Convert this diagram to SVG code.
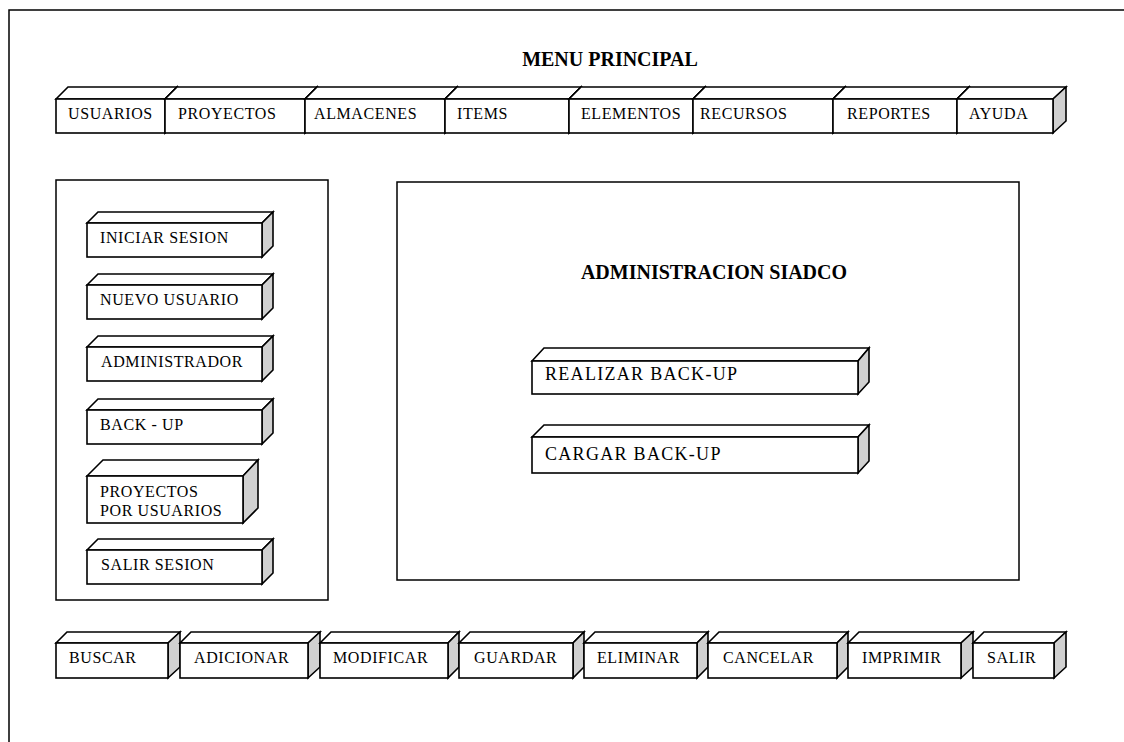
<svg xmlns="http://www.w3.org/2000/svg" width="1124" height="742" viewBox="0 0 1124 742">
  <style>
    .face { fill: #ffffff; stroke: #000000; stroke-width: 1.6; stroke-linejoin: miter; }
    .side { fill: #d0d0d0; stroke: #000000; stroke-width: 1.6; stroke-linejoin: miter; }
    .panel { fill: none; stroke: #000000; stroke-width: 1.5; }
    .lbl { font-family: "Liberation Serif", "Times New Roman", serif; font-size: 16px; letter-spacing: 0.6px; fill: #000000; }
    .big { font-family: "Liberation Serif", "Times New Roman", serif; font-size: 18px; letter-spacing: 1.3px; fill: #000000; }
    .title { font-family: "Liberation Serif", "Times New Roman", serif; font-size: 20px; font-weight: bold; fill: #000000; text-anchor: middle; }
  </style>

  <rect width="1124" height="742" fill="#ffffff"/>

  <!-- page frame: left and top edges only -->
  <path class="panel" d="M9,742 V10 H1124"/>

  <text class="title" x="610" y="66">MENU PRINCIPAL</text>

  <!-- top menu bar: adjacent boxes, each covers the side face of the one before -->
  <g id="menu-usuarios">
    <polygon class="face" points="56,99 68,87 177,87 165,99"/>
    <polygon class="side" points="165,99 177,87 177,121 165,133"/>
    <rect class="face" x="56" y="99" width="109" height="34"/>
    <text class="lbl" x="68" y="119">USUARIOS</text>
  </g>
  <g id="menu-proyectos">
    <polygon class="face" points="165,99 177,87 317,87 305,99"/>
    <polygon class="side" points="305,99 317,87 317,121 305,133"/>
    <rect class="face" x="165" y="99" width="140" height="34"/>
    <text class="lbl" x="178" y="119">PROYECTOS</text>
  </g>
  <g id="menu-almacenes">
    <polygon class="face" points="305,99 317,87 457,87 445,99"/>
    <polygon class="side" points="445,99 457,87 457,121 445,133"/>
    <rect class="face" x="305" y="99" width="140" height="34"/>
    <text class="lbl" x="314" y="119">ALMACENES</text>
  </g>
  <g id="menu-items">
    <polygon class="face" points="445,99 457,87 581,87 569,99"/>
    <polygon class="side" points="569,99 581,87 581,121 569,133"/>
    <rect class="face" x="445" y="99" width="124" height="34"/>
    <text class="lbl" x="457" y="119">ITEMS</text>
  </g>
  <g id="menu-elementos">
    <polygon class="face" points="569,99 581,87 705,87 693,99"/>
    <polygon class="side" points="693,99 705,87 705,121 693,133"/>
    <rect class="face" x="569" y="99" width="124" height="34"/>
    <text class="lbl" x="581" y="119">ELEMENTOS</text>
  </g>
  <g id="menu-recursos">
    <polygon class="face" points="693,99 705,87 845,87 833,99"/>
    <polygon class="side" points="833,99 845,87 845,121 833,133"/>
    <rect class="face" x="693" y="99" width="140" height="34"/>
    <text class="lbl" x="700" y="119">RECURSOS</text>
  </g>
  <g id="menu-reportes">
    <polygon class="face" points="833,99 845,87 969,87 957,99"/>
    <polygon class="side" points="957,99 969,87 969,121 957,133"/>
    <rect class="face" x="833" y="99" width="124" height="34"/>
    <text class="lbl" x="847" y="119">REPORTES</text>
  </g>
  <g id="menu-ayuda">
    <polygon class="face" points="957,99 969,87 1066,87 1053,99"/>
    <polygon class="side" points="1053,99 1066,87 1066,121 1053,133"/>
    <rect class="face" x="957" y="99" width="96" height="34"/>
    <text class="lbl" x="969" y="119">AYUDA</text>
  </g>

  <!-- left side panel -->
  <g id="panel-usuarios">
    <rect class="panel" x="56" y="180" width="272" height="420"/>
  </g>
  <g id="btn-iniciar-sesion">
    <polygon class="face" points="87,223 98,212 273,212 262,223"/>
    <polygon class="side" points="262,223 273,212 273,246 262,257"/>
    <rect class="face" x="87" y="223" width="175" height="34"/>
    <text class="lbl" x="100" y="243">INICIAR SESION</text>
  </g>
  <g id="btn-nuevo-usuario">
    <polygon class="face" points="87,285 98,274 273,274 262,285"/>
    <polygon class="side" points="262,285 273,274 273,308 262,319"/>
    <rect class="face" x="87" y="285" width="175" height="34"/>
    <text class="lbl" x="100" y="305">NUEVO USUARIO</text>
  </g>
  <g id="btn-administrador">
    <polygon class="face" points="87,347 98,336 273,336 262,347"/>
    <polygon class="side" points="262,347 273,336 273,370 262,381"/>
    <rect class="face" x="87" y="347" width="175" height="34"/>
    <text class="lbl" x="101" y="367">ADMINISTRADOR</text>
  </g>
  <g id="btn-back-up">
    <polygon class="face" points="87,410 98,399 273,399 262,410"/>
    <polygon class="side" points="262,410 273,399 273,433 262,444"/>
    <rect class="face" x="87" y="410" width="175" height="34"/>
    <text class="lbl" x="100" y="430">BACK - UP</text>
  </g>
  <g id="btn-proyectos-usuarios">
    <polygon class="face" points="87,476 103,460 258,460 243,476"/>
    <polygon class="side" points="243,476 258,460 258,508 243,523"/>
    <rect class="face" x="87" y="476" width="156" height="47"/>
    <text class="lbl" x="100" y="497">PROYECTOS</text>
    <text class="lbl" x="100" y="516">POR USUARIOS</text>
  </g>
  <g id="btn-salir-sesion">
    <polygon class="face" points="87,550 98,539 273,539 262,550"/>
    <polygon class="side" points="262,550 273,539 273,573 262,584"/>
    <rect class="face" x="87" y="550" width="175" height="34"/>
    <text class="lbl" x="101" y="570">SALIR SESION</text>
  </g>

  <!-- main content panel -->
  <g id="panel-admin">
    <rect class="panel" x="397" y="182" width="622" height="398"/>
    <text class="title" x="714" y="279">ADMINISTRACION SIADCO</text>
  </g>
  <g id="btn-realizar-backup">
    <polygon class="face" points="532,361 544,348 869,348 858,361"/>
    <polygon class="side" points="858,361 869,348 869,382 858,394"/>
    <rect class="face" x="532" y="361" width="326" height="33"/>
    <text class="big" x="545" y="380">REALIZAR BACK-UP</text>
  </g>
  <g id="btn-cargar-backup">
    <polygon class="face" points="532,437 544,425 869,425 858,437"/>
    <polygon class="side" points="858,437 869,425 869,461 858,473"/>
    <rect class="face" x="532" y="437" width="326" height="36"/>
    <text class="big" x="545" y="460">CARGAR BACK-UP</text>
  </g>

  <!-- bottom action bar -->
  <g id="btn-buscar">
    <polygon class="face" points="56,643 67,632 180,632 168,643"/>
    <polygon class="side" points="168,643 180,632 180,667 168,678"/>
    <rect class="face" x="56" y="643" width="112" height="35"/>
    <text class="lbl" x="69" y="663">BUSCAR</text>
  </g>
  <g id="btn-adicionar">
    <polygon class="face" points="180,643 191,632 320,632 308,643"/>
    <polygon class="side" points="308,643 320,632 320,667 308,678"/>
    <rect class="face" x="180" y="643" width="128" height="35"/>
    <text class="lbl" x="194" y="663">ADICIONAR</text>
  </g>
  <g id="btn-modificar">
    <polygon class="face" points="320,643 331,632 459,632 448,643"/>
    <polygon class="side" points="448,643 459,632 459,667 448,678"/>
    <rect class="face" x="320" y="643" width="128" height="35"/>
    <text class="lbl" x="333" y="663">MODIFICAR</text>
  </g>
  <g id="btn-guardar">
    <polygon class="face" points="459,643 470,632 584,632 573,643"/>
    <polygon class="side" points="573,643 584,632 584,667 573,678"/>
    <rect class="face" x="459" y="643" width="114" height="35"/>
    <text class="lbl" x="474" y="663">GUARDAR</text>
  </g>
  <g id="btn-eliminar">
    <polygon class="face" points="584,643 595,632 708,632 697,643"/>
    <polygon class="side" points="697,643 708,632 708,667 697,678"/>
    <rect class="face" x="584" y="643" width="113" height="35"/>
    <text class="lbl" x="597" y="663">ELIMINAR</text>
  </g>
  <g id="btn-cancelar">
    <polygon class="face" points="708,643 719,632 848,632 837,643"/>
    <polygon class="side" points="837,643 848,632 848,667 837,678"/>
    <rect class="face" x="708" y="643" width="129" height="35"/>
    <text class="lbl" x="723" y="663">CANCELAR</text>
  </g>
  <g id="btn-imprimir">
    <polygon class="face" points="848,643 859,632 973,632 961,643"/>
    <polygon class="side" points="961,643 973,632 973,667 961,678"/>
    <rect class="face" x="848" y="643" width="113" height="35"/>
    <text class="lbl" x="862" y="663">IMPRIMIR</text>
  </g>
  <g id="btn-salir">
    <polygon class="face" points="973,643 984,632 1066,632 1054,643"/>
    <polygon class="side" points="1054,643 1066,632 1066,667 1054,678"/>
    <rect class="face" x="973" y="643" width="81" height="35"/>
    <text class="lbl" x="987" y="663">SALIR</text>
  </g>

  <!-- no connectors in this screen layout -->
  <g id="connectors"/>
</svg>
